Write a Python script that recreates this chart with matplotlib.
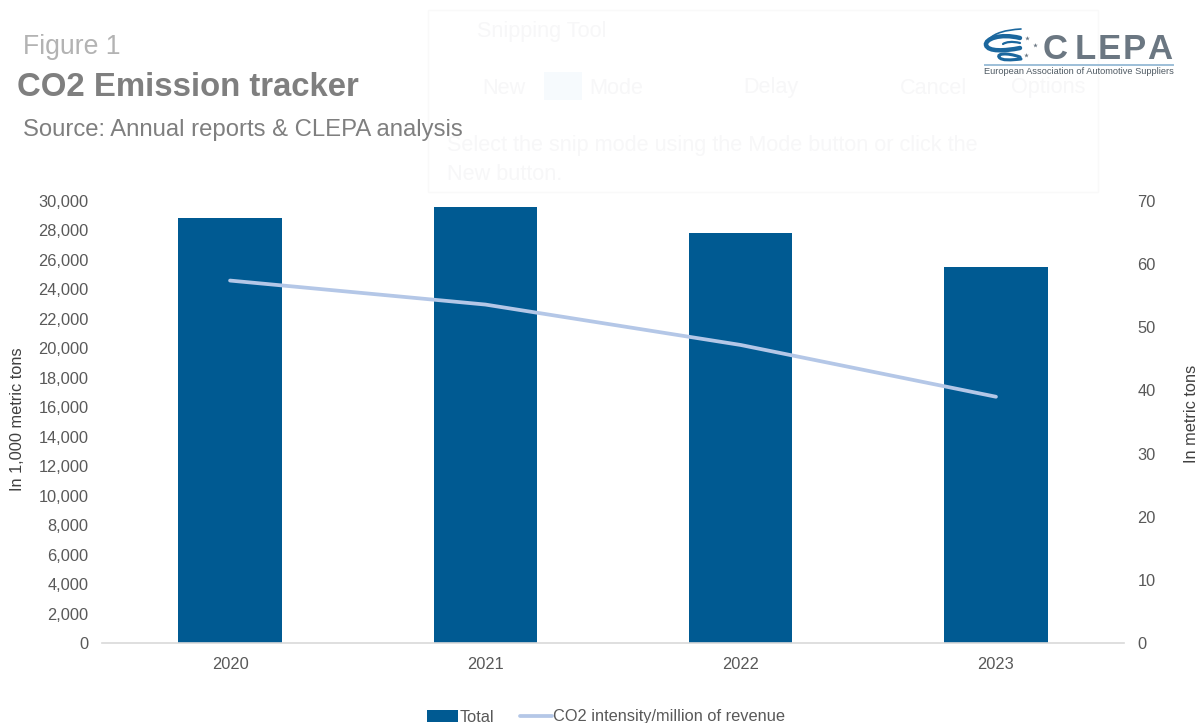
import matplotlib
matplotlib.use("Agg")
import matplotlib.pyplot as plt
from matplotlib.patches import Rectangle, PathPatch
from matplotlib.path import Path

plt.rcParams['font.family'] = ['Liberation Sans', 'DejaVu Sans']

years = ['2020', '2021', '2022', '2023']
total = [28850, 29600, 27830, 25520]
intensity = [57.4, 53.6, 47.2, 39.0]
left_ticks = list(range(0, 30001, 2000))
right_ticks = list(range(0, 71, 10))

W, H = 1199, 723
fig = plt.figure(figsize=(W / 100, H / 100), dpi=100, facecolor='white')

def fx(x): return x / W
def fy(y): return 1 - y / H

# faint ghost of a window behind the chart
GHOST = '#f7f7f8'
fig.add_artist(Rectangle((fx(428), fy(192)), 670 / W, 182 / H, transform=fig.transFigure,
                         fill=False, ec='#f9f9f9', lw=1))
for x, y, s in [(477, 32, 'Snipping Tool'), (482, 88, 'New'), (589, 88, 'Mode'),
                (743, 88, 'Delay'), (900, 88, 'Cancel'), (1011, 88, 'Options'),
                (447, 146, 'Select the snip mode using the Mode button or click the'),
                (447, 175, 'New button.')]:
    fig.text(fx(x), fy(y), s, fontsize=15.6, color=GHOST, va='center', ha='left')
fig.add_artist(Rectangle((fx(544), fy(100)), 38 / W, 28 / H, transform=fig.transFigure,
                         fc='#f6fafd', ec='none'))

ax = fig.add_axes([fx(102.4), fy(643), (1123.6 - 102.4) / W, (643 - 201) / H])
ax.patch.set_alpha(0)
x = list(range(len(years)))
bars = ax.bar(x, total, width=0.405, color='#005a92', label='Total', zorder=2)
ax.set_xlim(-0.5, 3.5)
ax.set_ylim(0, 30000)
ax.set_xticks(x, years)
ax.set_yticks(left_ticks, [f'{v:,}' for v in left_ticks])
ax.tick_params(length=0, labelsize=11.8, labelcolor='#595959')
ax.tick_params(axis='x', pad=10)
ax.tick_params(axis='y', pad=10)
for s in ['top', 'left', 'right']:
    ax.spines[s].set_visible(False)
ax.spines['bottom'].set_color('#d9d9d9')
ax.spines['bottom'].set_linewidth(1.2)
ax.set_ylabel('In 1,000 metric tons', fontsize=11.8, color='#404040')
ax.yaxis.set_label_coords((25 - 102.4) / (1123.6 - 102.4), 0.507)

ax2 = ax.twinx()
ax2.patch.set_alpha(0)
line, = ax2.plot(x, intensity, color='#b4c7e7', lw=2.7, solid_capstyle='round',
                 label='CO2 intensity/million of revenue', zorder=3)
ax2.set_ylim(0, 70)
ax2.set_yticks(right_ticks)
ax2.tick_params(length=0, labelsize=11.8, labelcolor='#595959', pad=10)
for s in ax2.spines.values():
    s.set_visible(False)
ax2.set_ylabel('In metric tons', fontsize=11.8, color='#404040')
ax2.yaxis.set_label_coords((1184.5 - 102.4) / (1123.6 - 102.4), 0.518)

fig.legend(handles=[bars, line], labels=[bars.get_label(), line.get_label()],
           loc='center', bbox_to_anchor=(fx(606), fy(717)), ncol=2, frameon=False,
           fontsize=11.8, labelcolor='#595959', columnspacing=1.6, handlelength=1.9,
           handletextpad=0.1, borderpad=0, borderaxespad=0)

# header
fig.text(fx(23), fy(47), 'Figure 1', fontsize=19.2, color='#b3b3b3', va='center', ha='left')
fig.text(fx(17), fy(87), 'CO2 Emission tracker', fontsize=23.7, color='#7f7f7f',
         fontweight='bold', va='center', ha='left')
fig.text(fx(23), fy(130), 'Source: Annual reports & CLEPA analysis', fontsize=17.2,
         color='#7f7f7f', va='center', ha='left')

# logo
for lx, letter in zip([1043, 1075, 1098, 1123, 1147], 'CLEPA'):
    fig.text(fx(lx), fy(59), letter, fontsize=25, color='#6b7782', fontweight='bold',
             va='baseline', ha='left')
fig.add_artist(plt.Line2D([fx(985), fx(1173)], [fy(64.5), fy(64.5)], color='#9dbfd8', lw=1.4))
fig.text(fx(984), fy(72), 'European Association of Automotive Suppliers', fontsize=6.7,
         color='#4f5a63', va='center', ha='left')
logo = fig.add_axes([0, 0, 1, 1], facecolor='none')
logo.set_xlim(0, W)
logo.set_ylim(H, 0)
logo.axis('off')
C3 = Path.CURVE4
swooshes = [
    ([(1021, 29), (1005, 30), (995, 33), (989, 39)], [Path.MOVETO, C3, C3, C3], 1.2),
    ([(1020, 38), (1000, 33), (985, 39), (986, 45), (988, 52), (1005, 51), (1020, 48)],
     [Path.MOVETO, C3, C3, C3, C3, C3, C3], 3.2),
    ([(1020, 43), (1012, 41), (1006, 42), (1003, 44)], [Path.MOVETO, C3, C3, C3], 1.6),
    ([(1020, 57), (1006, 52), (997, 54), (999, 57), (1001, 61), (1012, 60), (1021, 59)],
     [Path.MOVETO, C3, C3, C3, C3, C3, C3], 2.2),
]
for verts, codes, lw in swooshes:
    logo.add_patch(PathPatch(Path(verts, codes), fill=False, ec='#1b679e', lw=lw, capstyle='round'))
logo.plot([1027, 1035, 1026], [38, 45, 55], ls='none', marker='*', ms=3.5, color='#6b7782', mew=0)
logo.set_zorder(5)

fig.savefig('out.png', dpi=100)
